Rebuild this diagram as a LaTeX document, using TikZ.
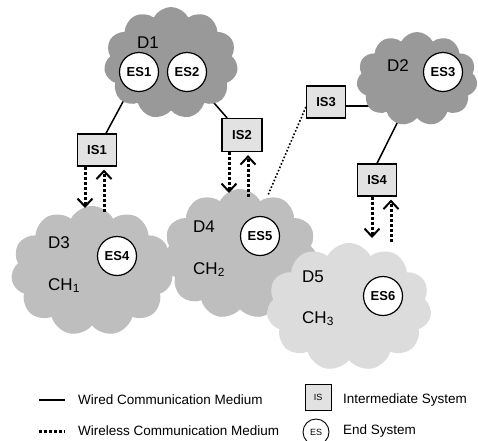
\documentclass[tikz,border=0pt]{standalone}
\usepackage{fontspec}
\setmainfont{Liberation Sans}
\usetikzlibrary{shapes.symbols,arrows.meta,backgrounds}
\definecolor{darkc}{HTML}{999999}
\definecolor{midc}{HTML}{BEBEBE}
\definecolor{lightc}{HTML}{DCDCDC}
\definecolor{isfill}{HTML}{E2E2E2}
\begin{document}
\begin{tikzpicture}[x=1pt,y=-1pt,
 cloudbox/.style={cloud, cloud puffs=11, cloud puff arc=125, cloud ignores aspect, draw=none, inner sep=0pt},
 es/.style={circle, draw, line width=1.2pt, fill=white, minimum size=39pt, inner sep=0pt, font=\fontsize{13}{13}\selectfont\bfseries},
 isbox/.style={rectangle, draw, line width=1.2pt, fill=isfill, minimum width=39pt, minimum height=32pt, inner sep=0pt, font=\fontsize{13}{13}\selectfont\bfseries},
 lbl/.style={font=\fontsize{17}{17}\selectfont, inner sep=0pt, anchor=base west},
 wired/.style={line width=1.5pt},
 wless/.style={line width=3pt, dash pattern=on 3pt off 2pt},
 wtip/.style={-{Straight Barb[line width=2pt,length=8pt,width=15pt]}},
 thindot/.style={line width=1.6pt, dash pattern=on 1.6pt off 2pt},
 legtext/.style={font=\fontsize{13.5}{13.5}\selectfont, anchor=west, inner sep=0pt},
 legsym/.style={draw, line width=0.9pt, inner sep=0pt, font=\fontsize{9}{9}\selectfont}]
\useasboundingbox (0,0) rectangle (478,440);

% clouds
\node[cloudbox, fill=midc, minimum width=162pt, minimum height=130pt] (d3) at (92,271) {};
\node[cloudbox, fill=midc, minimum width=156pt, minimum height=130pt] (d4) at (240,254) {};
\node[cloudbox, fill=lightc, minimum width=165pt, minimum height=128pt] (d5) at (349,307) {};
\node[cloudbox, fill=darkc, minimum width=134pt, minimum height=112pt] (d1) at (171,63) {};
\node[cloudbox, fill=darkc, minimum width=121pt, minimum height=94pt] (d2) at (417,79) {};

% end systems
\node[es] (es1) at (139,72) {ES1};
\node[es] (es2) at (187,72) {ES2};
\node[es] (es3) at (443,72) {ES3};
\node[es] (es4) at (117,256) {ES4};
\node[es] (es5) at (260,236) {ES5};
\node[es] (es6) at (383,296) {ES6};

% intermediate systems
\node[isbox] (is1) at (97,150) {IS1};
\node[isbox, minimum width=40pt, minimum height=33pt] (is2) at (242,135) {IS2};
\node[isbox] (is3) at (326,102) {IS3};
\node[isbox] (is4) at (377,180) {IS4};

% labels
\node[lbl] (tD1) at (137,48) {D1};
\node[lbl] (tD2) at (387,71) {D2};
\node[lbl] (tD3) at (48,248) {D3};
\node[lbl] (tC1) at (48,290) {CH\textsubscript{1}};
\node[lbl] (tD4) at (193,232) {D4};
\node[lbl] (tC2) at (193,274) {CH\textsubscript{2}};
\node[lbl] (tD5) at (302,282) {D5};
\node[lbl] (tC3) at (302,323) {CH\textsubscript{3}};

% wired connectors (behind clouds)
\coordinate (c3) at (385,106);
\coordinate (c4) at (411,95);
\begin{pgfonlayer}{background}
\draw[wired] (is1) -- (es1);
\draw[wired] (is2) -- (es2);
\draw[wired] (is3.east |- c3) -- (c3);
\draw[wired] (is4.north) -- (c4);
\end{pgfonlayer}

% wireless
\coordinate (p3) at (268,195);
\draw[thindot] ([yshift=-5pt]is3.west) -- (p3);
\coordinate (a1d) at (85,208);
\coordinate (a1u) at (104,212);
\draw[wless,wtip] (is1.south -| a1d) -- (a1d);
\draw[wless,wtip] (a1u) -- ([yshift=-3pt]is1.south -| a1u);
\coordinate (a2d) at (229,193);
\coordinate (a2u) at (248,197);
\draw[wless,wtip] (is2.south -| a2d) -- (a2d);
\draw[wless,wtip] (a2u) -- ([yshift=-3pt]is2.south -| a2u);
\coordinate (a4d) at (372,238);
\coordinate (a4u) at (391,242);
\draw[wless,wtip] (is4.south -| a4d) -- (a4d);
\draw[wless,wtip] (a4u) -- ([yshift=-3pt]is4.south -| a4u);

% legend
\coordinate (l1a) at (39,400);
\coordinate (l1b) at (65,400);
\coordinate (l2a) at (39,431);
\coordinate (l2b) at (65,431);
\draw[wired] (l1a) -- (l1b);
\draw[wless] (l2a) -- (l2b);
\node[legtext] (lt1) at (78,400) {Wired Communication Medium};
\node[legtext] (lt2) at (78,431) {Wireless Communication Medium};
\node[legsym, rectangle, fill=isfill, minimum width=26pt, minimum height=26pt] (lis) at (318,397) {IS};
\node[legsym, circle, fill=white, minimum size=26pt] (les) at (316,432) {ES};
\node[legtext] (lt3) at (343,400) {Intermediate System};
\node[legtext] (lt4) at (343,431) {End System};
\end{tikzpicture}
\end{document}
